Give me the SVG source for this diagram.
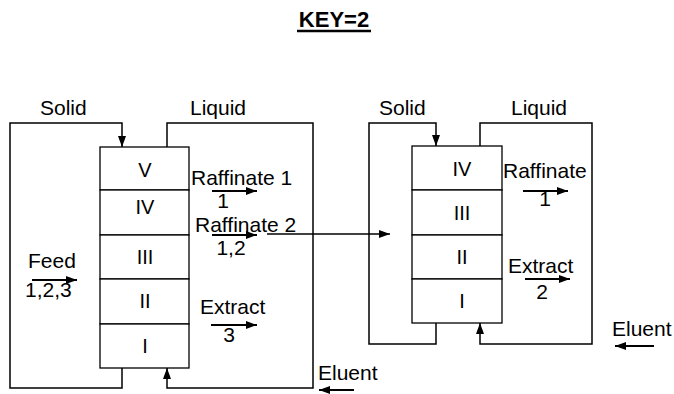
<svg xmlns="http://www.w3.org/2000/svg" width="674" height="394" viewBox="0 0 674 394">
<style>
text{font-family:"Liberation Sans",Arial,sans-serif;font-size:21px;fill:#000}
.num{text-anchor:middle;font-size:20px}
.box{fill:#fff;stroke:#000;stroke-width:1.3}
.loop{fill:none;stroke:#000;stroke-width:1.5}
.arr{fill:none;stroke:#000;stroke-width:1.8}
</style>
<defs>
<marker id="ah" markerUnits="userSpaceOnUse" markerWidth="12" markerHeight="8" refX="11" refY="4" orient="auto">
<path d="M0,0 L11,4 L0,8 z" fill="#000"/>
</marker>
</defs>
<rect width="674" height="394" fill="#fff"/>
<g id="title">
<text x="334" y="27" text-anchor="middle" style="font-weight:bold;font-size:22px">KEY=2</text>
<line x1="297" y1="31" x2="371" y2="31" stroke="#000" stroke-width="2.5"/>
</g>
<g id="connectors">
<path class="loop" d="M122,368 V388 H10 V123 H122 V147" marker-end="url(#ah)"/>
<path class="loop" d="M167,147 V123 H313 V388 H167 V368" marker-end="url(#ah)"/>
<path class="loop" d="M436,323 V344 H369 V123 H436 V146" marker-end="url(#ah)"/>
<path class="loop" d="M480,146 V123 H592 V344 H480 V323" marker-end="url(#ah)"/>
<line class="arr" x1="32" y1="280" x2="77" y2="280" marker-end="url(#ah)"/>
<line class="arr" x1="212" y1="191" x2="257" y2="191" marker-end="url(#ah)"/>
<line class="arr" x1="212" y1="235" x2="257" y2="235" marker-end="url(#ah)"/>
<line class="arr" x1="267" y1="234" x2="390" y2="234" style="stroke-width:1.3" marker-end="url(#ah)"/>
<line class="arr" x1="211" y1="325" x2="257" y2="325" marker-end="url(#ah)"/>
<line class="arr" x1="523" y1="191" x2="568" y2="191" marker-end="url(#ah)"/>
<line class="arr" x1="525" y1="279" x2="570" y2="279" marker-end="url(#ah)"/>
<line class="arr" x1="354" y1="390" x2="319" y2="390" marker-end="url(#ah)"/>
<line class="arr" x1="654" y1="346" x2="615" y2="346" marker-end="url(#ah)"/>
</g>
<g id="column1">
<rect class="box" x="100" y="147" width="89" height="43"/>
<rect class="box" x="100" y="190" width="89" height="45"/>
<rect class="box" x="100" y="235" width="89" height="44"/>
<rect class="box" x="100" y="279" width="89" height="45"/>
<rect class="box" x="100" y="324" width="89" height="44"/>
<text class="num" x="145" y="177">V</text>
<text class="num" x="145" y="214">IV</text>
<text class="num" x="145" y="264">III</text>
<text class="num" x="145" y="308">II</text>
<text class="num" x="145" y="353">I</text>
</g>
<g id="column2">
<rect class="box" x="412" y="146" width="90" height="44"/>
<rect class="box" x="412" y="190" width="90" height="45"/>
<rect class="box" x="412" y="235" width="90" height="44"/>
<rect class="box" x="412" y="279" width="90" height="44"/>
<text class="num" x="462" y="176">IV</text>
<text class="num" x="462" y="220">III</text>
<text class="num" x="462" y="264">II</text>
<text class="num" x="462" y="308">I</text>
</g>
<g id="labels">
<text x="40" y="115">Solid</text>
<text x="190" y="115">Liquid</text>
<text x="379" y="115">Solid</text>
<text x="511" y="115">Liquid</text>
<text x="28" y="268">Feed</text>
<text x="25" y="297">1,2,3</text>
<text x="191" y="185">Raffinate 1</text>
<text x="223" y="208" text-anchor="middle">1</text>
<text x="195" y="232">Raffinate 2</text>
<text x="231" y="255" text-anchor="middle">1,2</text>
<text x="200" y="314">Extract</text>
<text x="229" y="342" text-anchor="middle">3</text>
<text x="503" y="178">Raffinate</text>
<text x="545" y="206" text-anchor="middle">1</text>
<text x="508" y="273">Extract</text>
<text x="542" y="299" text-anchor="middle">2</text>
<text x="318" y="380">Eluent</text>
<text x="612" y="336">Eluent</text>
</g>
</svg>
